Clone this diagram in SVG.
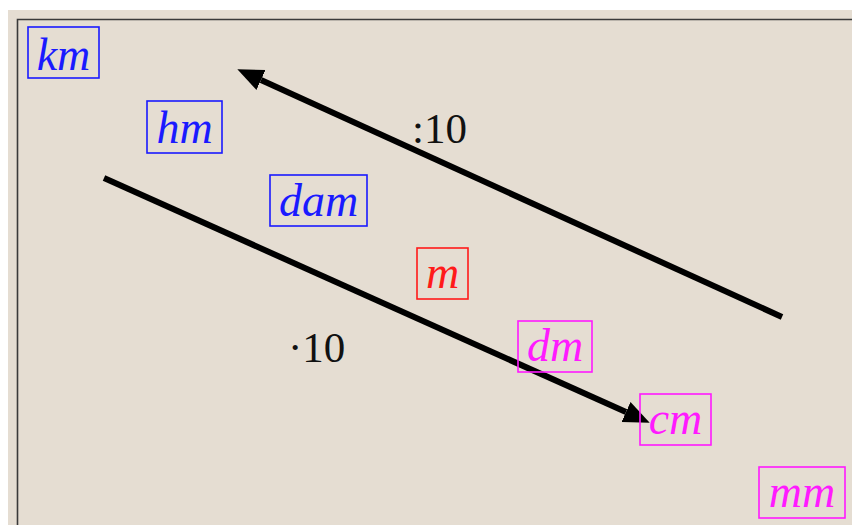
<svg xmlns="http://www.w3.org/2000/svg" width="852" height="525" viewBox="0 0 852 525">
<style>
.u{font-family:"Liberation Serif","Times New Roman",serif;font-style:italic;font-size:46px;text-anchor:middle}
.b{fill:none;stroke-width:1.6}
.blue{fill:#1a1aff}.blueb{stroke:#1a1aff}
.red{fill:#ff1a1a}.redb{stroke:#ff1a1a}
.mag{fill:#ff1aff}.magb{stroke:#ff1aff}
.n{font-family:"Liberation Serif","Times New Roman",serif;font-size:43px;fill:#111}
.c{stroke:#000;stroke-width:6;fill:none;marker-end:url(#ah)}
</style>
<defs>
<marker id="ah" markerUnits="userSpaceOnUse" markerWidth="28" markerHeight="24" refX="0" refY="11" orient="auto">
<path d="M0,0 L26,11 L0,22 z" fill="#000"/>
</marker>
</defs>
<rect width="852" height="525" fill="#ffffff"/>
<rect x="8" y="10" width="844" height="515" fill="#e5ddd2"/>
<path d="M17.5,525 V19.5 H852" fill="none" stroke="#3a3a3a" stroke-width="1.6"/>
<g id="connectors">
<line class="c" x1="782" y1="317" x2="261" y2="80"/>
<line class="c" x1="104" y1="178" x2="626" y2="412"/>
</g>
<g id="label-div"><text class="n" x="412" y="143">:10</text></g>
<g id="label-mul"><text class="n" x="288" y="362">·10</text></g>
<g id="km"><rect class="b blueb" x="28" y="27" width="71" height="51"/><text class="u blue" x="63.5" y="70">km</text></g>
<g id="hm"><rect class="b blueb" x="147" y="101" width="75" height="52"/><text class="u blue" x="184.5" y="143">hm</text></g>
<g id="dam"><rect class="b blueb" x="270" y="175" width="97" height="51"/><text class="u blue" x="318.5" y="216">dam</text></g>
<g id="m"><rect class="b redb" x="417" y="248" width="51" height="51"/><text class="u red" x="442.5" y="288">m</text></g>
<g id="dm"><rect class="b magb" x="518" y="321" width="74" height="51"/><text class="u mag" x="555" y="361">dm</text></g>
<g id="cm"><rect class="b magb" x="640" y="394" width="71" height="51"/><text class="u mag" x="675.5" y="434">cm</text></g>
<g id="mm"><rect class="b magb" x="759" y="467" width="86" height="51"/><text class="u mag" x="802" y="507">mm</text></g>
</svg>
